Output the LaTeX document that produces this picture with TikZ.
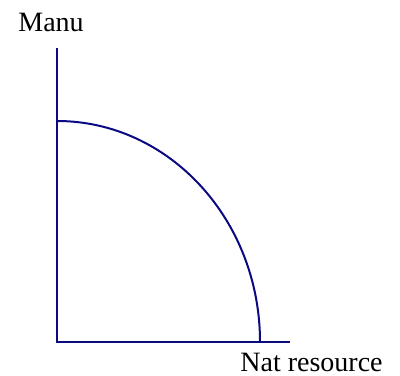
\documentclass[tikz,border=0pt]{standalone}
\usepackage{fontspec}
\setmainfont{Liberation Serif}
\usepackage{tikz}
\usetikzlibrary{positioning, calc}
\definecolor{ppfblue}{RGB}{10,10,130}

\begin{document}
\begin{tikzpicture}[
  x=0.5pt, y=0.5pt,
  axis/.style={draw=ppfblue, line width=1.2pt},
  frontier/.style={draw=ppfblue, line width=1pt},
  lbl/.style={font=\fontsize{14}{16}\selectfont, inner sep=0pt, anchor=base west}
]
  \useasboundingbox (0,0) rectangle (400,375);
  \coordinate (origin) at (57,33);
  \coordinate (ytop) at (57,327);
  \coordinate (xend) at (290,33);
  \coordinate (ymax) at (57,254);
  \node[lbl] (manu) at (18,343) {Manu};
  \node[lbl] (natres) at (240,4) {Nat resource};
  \draw[axis] (ytop) -- (origin) -- (xend);
  \draw[frontier] (ymax) arc[start angle=90, end angle=0, x radius=101.5pt, y radius=110.5pt];
\end{tikzpicture}
\end{document}
